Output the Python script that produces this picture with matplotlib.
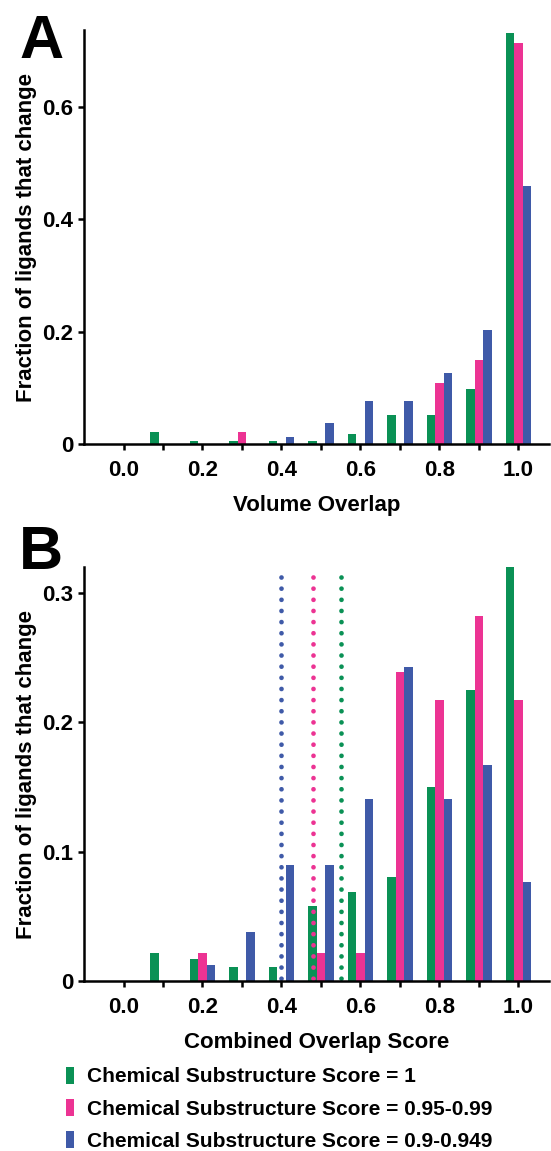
import matplotlib
matplotlib.use("Agg")
import matplotlib.pyplot as plt
import numpy as np

plt.rcParams['font.family'] = ['Liberation Sans', 'DejaVu Sans']
plt.rcParams['font.weight'] = 'bold'

bins = [0.1, 0.2, 0.3, 0.4, 0.5, 0.6, 0.7, 0.8, 0.9, 1.0]
series_labels = ["Chemical Substructure Score = 1",
                 "Chemical Substructure Score = 0.95-0.99",
                 "Chemical Substructure Score = 0.9-0.949"]

# panel A: volume overlap
vol_green = [0.022, 0.005, 0.005, 0.005, 0.005, 0.017, 0.051, 0.051, 0.097, 0.730]
vol_pink = [0.0, 0.0, 0.022, 0.0, 0.0, 0.0, 0.0, 0.108, 0.150, 0.713]
vol_blue = [0.0, 0.0, 0.0, 0.013, 0.038, 0.076, 0.076, 0.127, 0.203, 0.459]

# panel B: combined overlap score
comb_green = [0.022, 0.017, 0.011, 0.011, 0.058, 0.069, 0.081, 0.150, 0.225, 0.320]
comb_pink = [0.0, 0.022, 0.0, 0.0, 0.022, 0.022, 0.239, 0.217, 0.282, 0.217]
comb_blue = [0.0, 0.013, 0.038, 0.090, 0.090, 0.141, 0.243, 0.141, 0.167, 0.077]

# dotted reference lines in panel B
cutoffs = [0.55, 0.48, 0.40]

colors = ["#0A9155", "#EC3393", "#3F5AA8"]
width = 0.0215


def draw_panel(ax, series, ymax, yticks, yticklabels, xlabel):
    x = np.array(bins)
    bars = []
    for i, (vals, c) in enumerate(zip(series, colors)):
        b = ax.bar(x + (i - 1) * width, vals, width=width, color=c, linewidth=0)
        bars.append(b)
    ax.set_xlim(-0.1, 1.078)
    ax.set_ylim(0, ymax)
    ax.set_xticks(np.arange(0, 1.01, 0.1))
    ax.set_xticklabels(["0.0", "", "0.2", "", "0.4", "", "0.6", "", "0.8", "", "1.0"])
    ax.set_yticks(yticks)
    ax.set_yticklabels(yticklabels)
    for s in ["top", "right"]:
        ax.spines[s].set_visible(False)
    for s in ["left", "bottom"]:
        ax.spines[s].set_linewidth(1.8)
    ax.tick_params(width=1.8, length=4.5, labelsize=16)
    ax.tick_params(axis='x', pad=7)
    ax.tick_params(axis='y', pad=3)
    ax.set_xlabel(xlabel, fontsize=16, fontweight='bold', labelpad=10)
    ax.set_ylabel("Fraction of ligands that change", fontsize=16, fontweight='bold', labelpad=4)
    return bars


fig = plt.figure(figsize=(5.51, 11.51), dpi=100)
axA = fig.add_axes([0.1525, 0.6142, 0.844, 0.3597])
axB = fig.add_axes([0.1525, 0.1473, 0.844, 0.3600])

draw_panel(axA, [vol_green, vol_pink, vol_blue], 0.736,
           [0, 0.2, 0.4, 0.6], ["0", "0.2", "0.4", "0.6"], "Volume Overlap")
bars = draw_panel(axB, [comb_green, comb_pink, comb_blue], 0.32,
                  [0, 0.1, 0.2, 0.3], ["0", "0.1", "0.2", "0.3"], "Combined Overlap Score")

for xc, c in zip(cutoffs, colors):
    axB.plot([xc, xc], [0.312, 0], color=c, linewidth=3.4,
             linestyle=(0, (0.01, 2.35)), dash_capstyle='round')

fig.text(0.035, 0.988, "A", fontsize=44, fontweight='bold', va='top', ha='left')
fig.text(0.035, 0.5437, "B", fontsize=44, fontweight='bold', va='top', ha='left')

fig.legend(bars, series_labels, loc='upper left', bbox_to_anchor=(0.12, 0.073),
           frameon=False, fontsize=15, handlelength=0.4, handleheight=0.85,
           handletextpad=0.6, labelspacing=0.6, borderaxespad=0, borderpad=0)

fig.savefig("out.png", dpi=100)
